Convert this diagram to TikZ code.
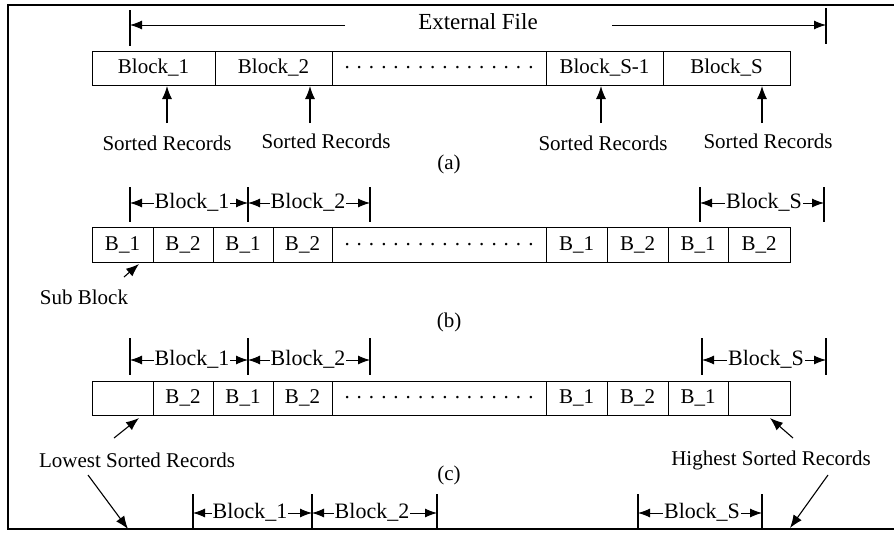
\documentclass[tikz,border=0pt]{standalone}
\usepackage{fontspec}
\setmainfont{Liberation Serif}
\usetikzlibrary{arrows.meta}
\tikzset{
  txt/.style={font=\fontsize{21}{24}\selectfont, inner sep=0pt},
  cell/.style={draw, line width=0.9pt, inner sep=0pt, font=\fontsize{21}{24}\selectfont},
  cella/.style={cell, minimum height=34pt},
  dimlbl/.style={font=\fontsize{22}{25}\selectfont, inner sep=1pt},
  tick/.style={line width=1.1pt},
  dimarr/.style={line width=0.9pt, -{Latex[length=12pt,width=9pt]}},
  ptr/.style={line width=1.1pt, -{Latex[length=13pt,width=10pt]}},
}
\newcommand{\dotrow}{.\hspace{7pt}.\hspace{7pt}.\hspace{7pt}.\hspace{7pt}.\hspace{7pt}.\hspace{7pt}.\hspace{7pt}.\hspace{7pt}.\hspace{7pt}.\hspace{7pt}.\hspace{7pt}.\hspace{7pt}.\hspace{7pt}.\hspace{7pt}.\hspace{7pt}.}
\begin{document}
\begin{tikzpicture}[x=1pt,y=-1pt]
\useasboundingbox (0,0) rectangle (894,533);
% frame
\draw[line width=1.4pt] (894,5) -- (8,5) -- (8,529) -- (894,529);

% ---------- (a) ----------
\node[txt, font=\fontsize{23}{26}\selectfont] (ext) at (478,22) {External File};
\coordinate (extL) at (345,25);
\coordinate (extR) at (612,25);
\coordinate (tkLt) at (130,10); \coordinate (tkLb) at (130,46);
\coordinate (tkRt) at (826,8);  \coordinate (tkRb) at (826,44);
\coordinate (tkLm) at (130,25); \coordinate (tkRm) at (826,25);
\draw[tick] (tkLt) -- (tkLb);
\draw[tick] (tkRt) -- (tkRb);
\draw[dimarr] (extL) -- (tkLm);
\draw[dimarr] (extR) -- (tkRm);

\node[cella, minimum width=123pt] (a1) at (153.5,68) {Block\_1};
\node[cella, minimum width=117pt] (a2) at (273.5,68) {Block\_2};
\node[cella, minimum width=214pt] (a3) at (439,68) {\dotrow};
\node[cella, minimum width=117pt] (a4) at (604.5,68) {Block\_S-1};
\node[cella, minimum width=127pt] (a5) at (726.5,68) {Block\_S};

\node[txt] (s1) at (167,143) {Sorted Records};
\node[txt] (s2) at (326,141) {Sorted Records};
\node[txt] (s3) at (603,143) {Sorted Records};
\node[txt] (s4) at (768,141) {Sorted Records};
\coordinate (p1) at (167,123); \coordinate (q1) at (167,86);
\coordinate (p2) at (310,123); \coordinate (q2) at (310,86);
\coordinate (p3) at (601,123); \coordinate (q3) at (601,86);
\coordinate (p4) at (762,123); \coordinate (q4) at (762,86);
\draw[ptr] (p1) -- (q1);
\draw[ptr] (p2) -- (q2);
\draw[ptr] (p3) -- (q3);
\draw[ptr] (p4) -- (q4);
\node[txt] (la) at (449,164) {(a)};

% ---------- (b) ----------
\foreach \n/\x in {b1/130,b2/248,b3/370,bS1/700,bS2/824}{
  \coordinate (\n t) at (\x,187); \coordinate (\n b) at (\x,222);
  \coordinate (\n m) at (\x,203);
  \draw[tick] (\n t) -- (\n b);
}
\node[dimlbl] (bd1) at (192,202) {Block\_1};
\node[dimlbl] (bd2) at (308,202) {Block\_2};
\node[dimlbl] (bdS) at (764,202) {Block\_S};
\draw[dimarr] (bd1.west |- b1m) -- (b1m);
\draw[dimarr] (bd1.east |- b2m) -- (b2m);
\draw[dimarr] (bd2.west |- b2m) -- (b2m);
\draw[dimarr] (bd2.east |- b3m) -- (b3m);
\draw[dimarr] (bdS.west |- bS1m) -- (bS1m);
\draw[dimarr] (bdS.east |- bS2m) -- (bS2m);

\node[cell, minimum height=35pt, minimum width=61pt] (b1) at (122.5,244.5) {B\_1};
\node[cell, minimum height=35pt, minimum width=60pt] (b2) at (183,244.5) {B\_2};
\node[cell, minimum height=35pt, minimum width=60pt] (b3) at (243,244.5) {B\_1};
\node[cell, minimum height=35pt, minimum width=59pt] (b4) at (302.5,244.5) {B\_2};
\node[cell, minimum height=35pt, minimum width=214pt] (b5) at (439,244.5) {\dotrow};
\node[cell, minimum height=35pt, minimum width=61pt] (b6) at (576.5,244.5) {B\_1};
\node[cell, minimum height=35pt, minimum width=61pt] (b7) at (637.5,244.5) {B\_2};
\node[cell, minimum height=35pt, minimum width=60pt] (b8) at (698,244.5) {B\_1};
\node[cell, minimum height=35pt, minimum width=62pt] (b9) at (759,244.5) {B\_2};

\node[txt] (sub) at (84,297) {Sub Block};
\coordinate (subT) at (124,277);
\coordinate (subH) at (139,264);
\draw[ptr] (subT) -- (subH);
\node[txt] (lb) at (449,322) {(b)};

% ---------- (c) ----------
\foreach \n/\x in {c1/130,c2/248,c3/370,cS1/702,cS2/826}{
  \coordinate (\n t) at (\x,338); \coordinate (\n b) at (\x,375);
  \coordinate (\n m) at (\x,360);
  \draw[tick] (\n t) -- (\n b);
}
\node[dimlbl] (cd1) at (192,359) {Block\_1};
\node[dimlbl] (cd2) at (308,359) {Block\_2};
\node[dimlbl] (cdS) at (766,359) {Block\_S};
\draw[dimarr] (cd1.west |- c1m) -- (c1m);
\draw[dimarr] (cd1.east |- c2m) -- (c2m);
\draw[dimarr] (cd2.west |- c2m) -- (c2m);
\draw[dimarr] (cd2.east |- c3m) -- (c3m);
\draw[dimarr] (cdS.west |- cS1m) -- (cS1m);
\draw[dimarr] (cdS.east |- cS2m) -- (cS2m);

\node[cella, minimum width=61pt] (c1) at (122.5,398) {};
\node[cella, minimum width=60pt] (c2) at (183,398) {B\_2};
\node[cella, minimum width=60pt] (c3) at (243,398) {B\_1};
\node[cella, minimum width=59pt] (c4) at (302.5,398) {B\_2};
\node[cella, minimum width=214pt] (c5) at (439,398) {\dotrow};
\node[cella, minimum width=61pt] (c6) at (576.5,398) {B\_1};
\node[cella, minimum width=61pt] (c7) at (637.5,398) {B\_2};
\node[cella, minimum width=60pt] (c8) at (698,398) {B\_1};
\node[cella, minimum width=62pt] (c9) at (759,398) {};

\node[txt] (low) at (137,460) {Lowest Sorted Records};
\node[txt] (high) at (771,460) {Highest Sorted Records};
\coordinate (lowT) at (114,438); \coordinate (lowH) at (139,418);
\coordinate (highT) at (793,438); \coordinate (highH) at (770,418);
\draw[ptr] (lowT) -- (lowH);
\draw[ptr] (highT) -- (highH);
\coordinate (low2T) at (88,475); \coordinate (low2H) at (128,529);
\coordinate (high2T) at (828,475); \coordinate (high2H) at (790,528);
\draw[ptr] (low2T) -- (low2H);
\draw[ptr] (high2T) -- (high2H);
\node[txt] (lc) at (449,475) {(c)};

% ---------- bottom dimensions ----------
\foreach \n/\x in {d1/193,d2/312,d3/437,dS1/638,dS2/762}{
  \coordinate (\n t) at (\x,494); \coordinate (\n b) at (\x,530);
  \coordinate (\n m) at (\x,513);
  \draw[tick] (\n t) -- (\n b);
}
\node[dimlbl] (dd1) at (250,512) {Block\_1};
\node[dimlbl] (dd2) at (372,512) {Block\_2};
\node[dimlbl] (ddS) at (702,512) {Block\_S};
\draw[dimarr] (dd1.west |- d1m) -- (d1m);
\draw[dimarr] (dd1.east |- d2m) -- (d2m);
\draw[dimarr] (dd2.west |- d2m) -- (d2m);
\draw[dimarr] (dd2.east |- d3m) -- (d3m);
\draw[dimarr] (ddS.west |- dS1m) -- (dS1m);
\draw[dimarr] (ddS.east |- dS2m) -- (dS2m);
\end{tikzpicture}
\end{document}
